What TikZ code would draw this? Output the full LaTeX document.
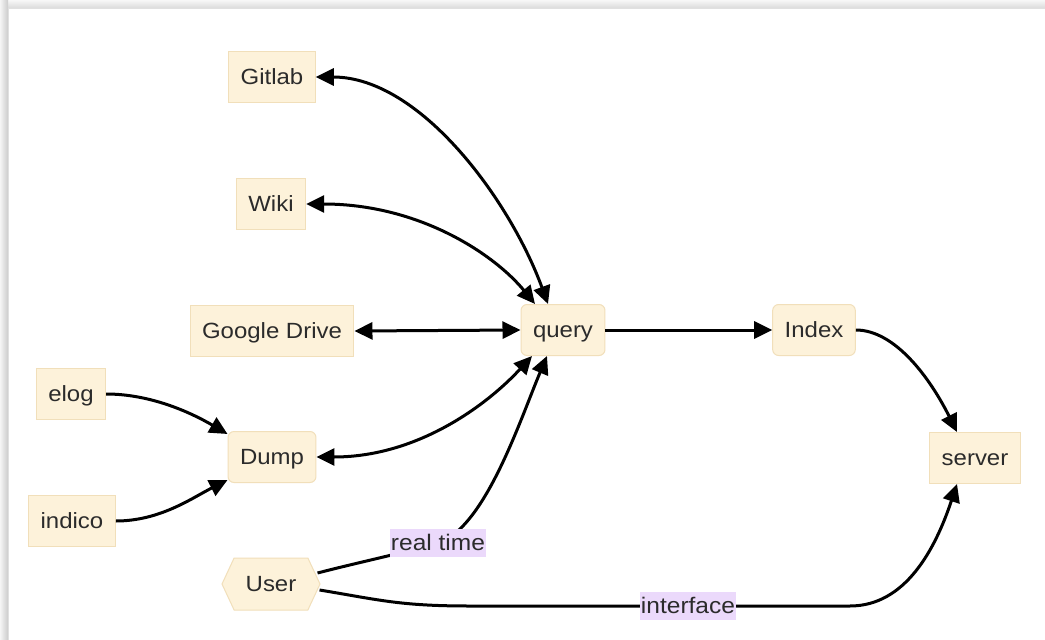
\documentclass[tikz,border=0pt]{standalone}
\usepackage{fontspec}
\setmainfont{Liberation Sans}[FakeStretch=1.09]
\usetikzlibrary{arrows.meta,shapes.symbols,calc}
\definecolor{nodefill}{HTML}{FDF2DA}
\definecolor{nodeline}{HTML}{F1DFBA}
\definecolor{lblfill}{HTML}{EBD9FB}
\definecolor{txt}{HTML}{2B2B2B}
\begin{document}
\begin{tikzpicture}[x=1pt,y=-1pt,
  box/.style={draw=nodeline, fill=nodefill, line width=1pt, text=txt,
    font=\fontsize{22}{26}\selectfont, text height=19pt, text depth=4.5pt,
    inner xsep=12pt, inner ysep=0pt, minimum height=51pt},
  rbox/.style={box, rounded corners=6pt},
  hexbox/.style={box, shape=signal, signal to=west and east, signal pointer angle=130,
    minimum width=98pt, minimum height=52pt, inner xsep=4pt},
  lbl/.style={fill=lblfill, text=txt, font=\fontsize{22.5}{26}\selectfont,
    text height=19pt, text depth=4.5pt,
    inner xsep=0.5pt, inner ysep=2pt, minimum height=28pt},
  conn/.style={line width=3pt, draw=black, -{Triangle[length=18pt,width=17pt]}},
  bconn/.style={conn, {Triangle[length=18pt,width=17pt]}-{Triangle[length=18pt,width=17pt]}},
]
\useasboundingbox (0,0) rectangle (1045,640);
% page background with card edge
\fill[white] (0,0) rectangle (1045,640);
\shade[top color=black!3, bottom color=black!14] (0,0) rectangle (1045,8);
\shade[left color=black!4, right color=black!20] (0,0) rectangle (8,640);
\draw[black!12, line width=0.8pt] (8,640) -- (8,8) -- (1045,8);

% nodes
\node[box]  (gitlab) at (272,77)  {Gitlab};
\node[box]  (wiki)   at (271,204) {Wiki};
\node[box]  (gdrive) at (272,331) {Google Drive};
\node[rbox] (query)  at (563,330) {query};
\node[rbox] (index)  at (814,330) {Index};
\node[box]  (elog)   at (71,394)  {elog};
\node[rbox] (dump)   at (272,457) {Dump};
\node[box]  (indico) at (72,521)  {indico};
\node[box]  (server) at (975,458) {server};
\node[hexbox] (user) at (271,584) {User};

% connectors
\draw[bconn] (gitlab.east) .. controls (420,77) and (510,200) .. ([xshift=-15pt]query.north);
\draw[bconn] (wiki.east) .. controls (420,204) and (495,255) .. ([xshift=-28pt]query.north);
\draw[bconn] (gdrive.east) -- (query.west);
\draw[conn] (query.east) -- (index.west);
\draw[conn] (index.east) .. controls (895,330) and (930,378) .. ([xshift=-18pt]server.north);
\draw[conn] (elog.east) .. controls (150,394) and (190,412) .. ([yshift=-3pt]dump.north west);
\draw[conn] (indico.east) .. controls (160,521) and (192,498) .. ([yshift=3pt]dump.south west);
\draw[bconn] (dump.east) .. controls (420,457) and (490,402) .. ([xshift=-31pt]query.south);
\coordinate (rt) at (438,543);
\draw[conn] ([xshift=-3pt,yshift=11pt]user.east) .. controls (360,562) and (395,555) .. (rt)
  .. controls (485,528) and (520,420) .. ([xshift=-16pt]query.south);
\node[lbl] (rtl) at (rt) {real time};
\coordinate (if) at (688,606);
\draw[conn] ([xshift=-1pt,yshift=-6pt]user.east) .. controls (380,600) and (400,606) .. (470,606)
  -- (if) -- (850,606) .. controls (905,606) and (935,550) .. ([xshift=-18pt]server.south);
\node[lbl] (ifl) at (if) {interface};
\end{tikzpicture}
\end{document}
